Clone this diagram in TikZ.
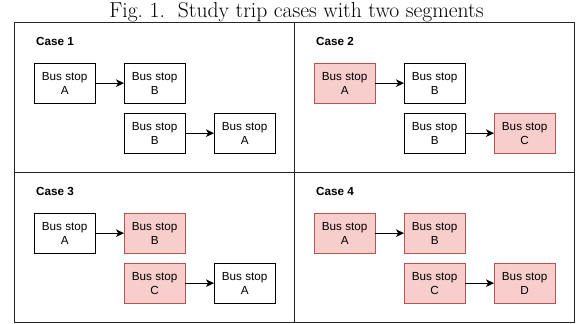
\documentclass[tikz,border=0pt]{standalone}
\usepackage{fontspec}
\setsansfont{Liberation Sans}
\usetikzlibrary{arrows.meta}
\definecolor{pinkfill}{HTML}{F8CECC}
\definecolor{pinkdraw}{HTML}{B85450}
\tikzset{
  stopbox/.style={draw=black, line width=0.9pt, minimum width=60.5pt, minimum height=40pt,
    inner sep=0pt, align=center, font=\sffamily\fontsize{11.7}{14}\selectfont, anchor=north west},
  hot/.style={fill=pinkfill, draw=pinkdraw},
  caselabel/.style={anchor=west, inner sep=0pt, font=\sffamily\bfseries\fontsize{11.7}{14}\selectfont},
  link/.style={-{Stealth[length=8pt,width=7.5pt,inset=2.2pt]}, line width=0.9pt},
  frame/.style={draw=black!85, line width=1pt}
}
\begin{document}
\begin{tikzpicture}[x=1pt,y=-1pt]
\useasboundingbox (0,0) rectangle (576,324);
\node[anchor=base, inner sep=0pt, font=\fontsize{21.6}{24}\selectfont] (title) at (296.5,17.8) {Fig.~1.\hspace{0.6em}Study trip cases with two segments};
\draw[frame] (14.3,22.7) rectangle (574.5,322);
\draw[frame] (294,22.7) -- (294,322);
\draw[frame] (14.3,172.5) -- (574.5,172.5);
% Case 1
\node[caselabel] (c1) at (36,41.7) {Case 1};
\node[stopbox] (a1) at (34,62.7) {Bus stop\\A};
\node[stopbox] (b1) at (124,62.7) {Bus stop\\B};
\node[stopbox] (b1x) at (124,112.7) {Bus stop\\B};
\node[stopbox] (a1x) at (214,112.7) {Bus stop\\A};
\draw[link] (a1) -- (b1);
\draw[link] (b1x) -- (a1x);
% Case 2
\node[caselabel] (c2) at (316,41.7) {Case 2};
\node[stopbox,hot] (a2) at (314,62.7) {Bus stop\\A};
\node[stopbox] (b2) at (404,62.7) {Bus stop\\B};
\node[stopbox] (b2x) at (404,112.7) {Bus stop\\B};
\node[stopbox,hot] (c2x) at (494,112.7) {Bus stop\\C};
\draw[link] (a2) -- (b2);
\draw[link] (b2x) -- (c2x);
% Case 3
\node[caselabel] (c3) at (36,191.7) {Case 3};
\node[stopbox] (a3) at (34,212.7) {Bus stop\\A};
\node[stopbox,hot] (b3) at (124,212.7) {Bus stop\\B};
\node[stopbox,hot] (c3x) at (124,262.7) {Bus stop\\C};
\node[stopbox] (a3x) at (214,262.7) {Bus stop\\A};
\draw[link] (a3) -- (b3);
\draw[link] (c3x) -- (a3x);
% Case 4
\node[caselabel] (c4) at (316,191.7) {Case 4};
\node[stopbox,hot] (a4) at (314,212.7) {Bus stop\\A};
\node[stopbox,hot] (b4) at (404,212.7) {Bus stop\\B};
\node[stopbox,hot] (c4x) at (404,262.7) {Bus stop\\C};
\node[stopbox,hot] (d4) at (494,262.7) {Bus stop\\D};
\draw[link] (a4) -- (b4);
\draw[link] (c4x) -- (d4);
\end{tikzpicture}
\end{document}
